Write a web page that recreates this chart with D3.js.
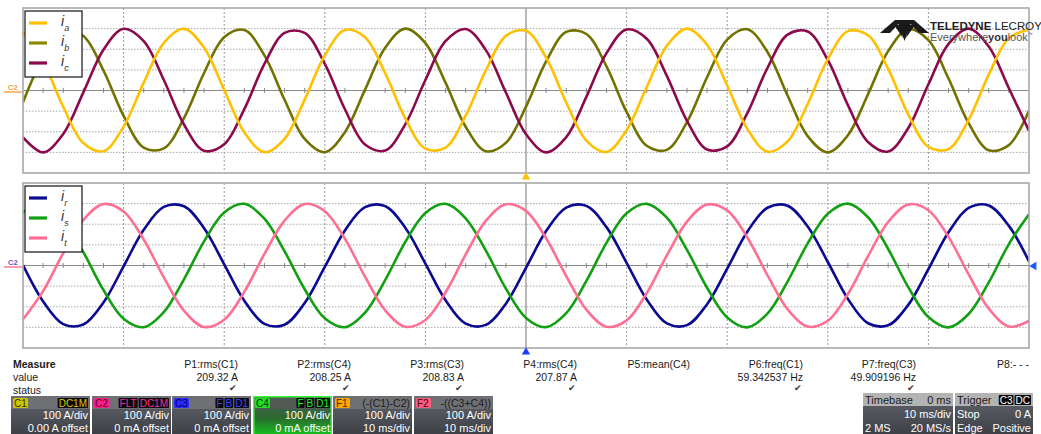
<!DOCTYPE html>
<html>
<head>
<meta charset="utf-8">
<script src="https://cdn.jsdelivr.net/npm/d3@7"></script>
<style>
  html, body { margin: 0; padding: 0; background: #ffffff; }
  svg { display: block; }
  text { font-family: "Liberation Sans", Arial, sans-serif; }
</style>
</head>
<body>
<svg id="scope" width="1041" height="434"></svg>
<script>
// ---- acquisition: sample times (ms, relative to trigger) ----
const sampleTimes = d3.range(-50, 51, 2);

// ---- grid 1 : machine-side phase currents (A) ----
const currentA = [283,140,-79,-255,-294,-175,38,231,299,207,3,-203,-299,-234,-44,170,293,258,84,-135,-282,-277,-122,97,265,290,159,-58,-243,-298,-192,17,217,300,222,24,-186,-297,-247,-65,152,288,268,105,-116,-273,-284,-142,77,254,295];
const currentB = [-57,159,290,264,97,-123,-277,-281,-134,85,258,293,170,-45,-235,-299,-202,4,207,300,230,38,-176,-294,-254,-78,141,284,274,117,-104,-268,-288,-153,64,247,297,187,-24,-221,-300,-217,-18,191,298,244,58,-158,-290,-265,-98];
const currentC = [-227,-300,-211,-9,198,299,239,51,-165,-292,-261,-90,129,279,279,129,-91,-262,-291,-164,51,239,298,197,-10,-212,-300,-226,-31,181,296,251,71,-147,-286,-271,-110,109,271,286,148,-71,-250,-296,-182,30,226,300,213,11,-196];

// ---- grid 2 : grid-side phase currents (A) ----
const currentR = [2,-174,-284,-286,-179,-4,173,284,287,181,6,-171,-283,-287,-182,-7,170,283,288,183,9,-168,-282,-288,-185,-11,167,281,289,186,13,-165,-281,-289,-188,-15,164,280,290,189,17,-162,-280,-290,-191,-18,161,279,291,192,20];
const currentS = [259,299,225,65,-119,-258,-299,-226,-67,117,257,299,227,69,-115,-256,-299,-228,-71,114,255,299,229,73,-112,-254,-299,-231,-75,110,253,299,232,76,-108,-252,-300,-233,-78,107,251,300,234,80,-105,-250,-300,-235,-82,104,249];
const currentT = [-261,-124,60,221,298,262,126,-58,-219,-298,-263,-128,56,218,298,263,129,-54,-217,-297,-264,-131,53,216,297,265,132,-51,-214,-297,-266,-134,49,213,296,267,136,-47,-212,-296,-268,-138,45,211,296,268,139,-43,-209,-296,-269];

// ---- axis divisions ----
const timeDivs = [-40, -30, -20, -10, 10, 20, 30, 40];     // 10 ms/div
const ampDivs  = [-300, -200, -100, 100, 200, 300];        // 100 A/div

// ---- measurement table ----
const paramNames  = ["P1:rms(C1)", "P2:rms(C4)", "P3:rms(C3)", "P4:rms(C4)", "P5:mean(C4)", "P6:freq(C1)", "P7:freq(C3)", "P8:- - -"];
const paramValues = ["209.32 A", "208.25 A", "208.83 A", "207.87 A", "", "59.342537 Hz", "49.909196 Hz", ""];
const paramValid  = [true, true, true, true, false, true, true, false];

const svg = d3.select("#scope");
const defs = svg.append("defs");

const x = d3.scaleLinear().domain([-50, 50]).range([23, 1029]);

const panels = [
  { id: "g1", top: 8, bottom: 173, markerLine: "#f2a33a", markerText: "#f0a040",
    series: [
      { key: "b", values: currentB, color: "#727200" },
      { key: "c", values: currentC, color: "#8c0a4c" },
      { key: "a", values: currentA, color: "#ffc000" }
    ],
    legend: [
      { sub: "a", color: "#ffc000" },
      { sub: "b", color: "#8a8a00" },
      { sub: "c", color: "#8c0a4c" }
    ] },
  { id: "g2", top: 183, bottom: 348, markerLine: "#ff6f91", markerText: "#7050c0",
    series: [
      { key: "r", values: currentR, color: "#0a0a92" },
      { key: "s", values: currentS, color: "#12a012" },
      { key: "t", values: currentT, color: "#ff6f93" }
    ],
    legend: [
      { sub: "r", color: "#0a0a92" },
      { sub: "s", color: "#12a012" },
      { sub: "t", color: "#ff6f93" }
    ] }
];

panels.forEach(p => {
  const y = d3.scaleLinear().domain([-400, 400]).range([p.bottom, p.top]);
  const g = svg.append("g");
  const [x0, x1] = x.range();

  defs.append("clipPath").attr("id", "clip-" + p.id)
    .append("rect").attr("x", x0).attr("y", p.top).attr("width", x1 - x0).attr("height", p.bottom - p.top);

  g.append("rect").attr("x", x0).attr("y", p.top).attr("width", x1 - x0).attr("height", p.bottom - p.top)
    .attr("fill", "#ffffff");

  // dotted amplitude gridlines
  g.selectAll(".hgrid").data(ampDivs).join("line")
    .attr("x1", x0).attr("x2", x1)
    .attr("y1", d => y(d)).attr("y2", d => y(d))
    .attr("stroke", "#a9a9a9").attr("stroke-width", 1).attr("stroke-dasharray", "1.5,1.5");

  // dashed time gridlines
  g.selectAll(".vgrid").data(timeDivs).join("line")
    .attr("x1", d => x(d)).attr("x2", d => x(d))
    .attr("y1", p.top).attr("y2", p.bottom)
    .attr("stroke", "#9a9a9a").attr("stroke-width", 1).attr("stroke-dasharray", "2,2");

  // centre cross
  g.append("line").attr("x1", x0).attr("x2", x1).attr("y1", y(0)).attr("y2", y(0))
    .attr("stroke", "#8a8a8a").attr("stroke-width", 1.2);
  g.append("line").attr("x1", x(0)).attr("x2", x(0)).attr("y1", p.top).attr("y2", p.bottom)
    .attr("stroke", "#8a8a8a").attr("stroke-width", 1.2);

  // minor ticks along the centre line
  const minor = d3.range(-48, 50, 2).filter(t => t % 10 !== 0);
  g.selectAll(".mtick").data(minor).join("line")
    .attr("x1", d => x(d)).attr("x2", d => x(d))
    .attr("y1", y(0) - 2.5).attr("y2", y(0) + 2.5)
    .attr("stroke", "#8a8a8a").attr("stroke-width", 1);

  // traces
  const line = d3.line()
    .x((d, i) => x(sampleTimes[i]))
    .y(d => y(d))
    .curve(d3.curveCatmullRom.alpha(0.5));

  const traces = g.append("g").attr("clip-path", "url(#clip-" + p.id + ")");
  p.series.forEach(s => {
    traces.append("path").attr("d", line(s.values))
      .attr("fill", "none").attr("stroke", s.color)
      .attr("stroke-width", 2.6).attr("stroke-linejoin", "round");
  });

  // frame
  g.append("rect").attr("x", x0).attr("y", p.top).attr("width", x1 - x0).attr("height", p.bottom - p.top)
    .attr("fill", "none").attr("stroke", "#a8a8a8").attr("stroke-width", 1.6);

  // channel ground marker at the left
  g.append("text").attr("x", 8).attr("y", y(0) - 1)
    .attr("font-size", 7.5).attr("font-weight", "bold").attr("fill", p.markerText).text("C2");
  g.append("line").attr("x1", 4).attr("x2", 22).attr("y1", y(0) + 1.5).attr("y2", y(0) + 1.5)
    .attr("stroke", p.markerLine).attr("stroke-width", 1.4);

  // legend
  const lg = g.append("g").attr("transform", `translate(25,${p.top + 3})`);
  lg.append("rect").attr("x", 0).attr("y", 0).attr("width", 57).attr("height", 66)
    .attr("fill", "#ffffff").attr("stroke", "#111111").attr("stroke-width", 1.2);
  p.legend.forEach((d, i) => {
    const ly = 12 + i * 20;
    lg.append("line").attr("x1", 4).attr("x2", 22).attr("y1", ly).attr("y2", ly)
      .attr("stroke", d.color).attr("stroke-width", 3.2);
    const t = lg.append("text").attr("x", 36).attr("y", ly + 3)
      .attr("font-family", "'Liberation Serif', 'DejaVu Serif', serif")
      .attr("font-style", "italic").attr("font-size", 14).attr("fill", "#333333");
    t.append("tspan").text("i");
    t.append("tspan").attr("dy", 5).attr("font-size", 9).text(d.sub);
  });
});

// trigger position / level markers
const tri = d3.symbol().type(d3.symbolTriangle).size(30);
svg.append("path").attr("d", tri()).attr("fill", "#ffc000")
  .attr("transform", `translate(${x(0)},177)`);
svg.append("path").attr("d", tri()).attr("fill", "#1a3cff")
  .attr("transform", `translate(${x(0)},352)`);
svg.append("path").attr("d", tri()).attr("fill", "#1a5cff")
  .attr("transform", `translate(1034,266) rotate(-90)`);

// ---- logo ----
const logo = svg.append("g").attr("transform", "translate(880,19)");
logo.append("path").attr("fill", "#1a1a1a").attr("d", "M0,14 L15,1 L22,1 L10,14 Z");
logo.append("path").attr("fill", "#1a1a1a").attr("d", "M49,14 L34,1 L27,1 L39,14 Z");
logo.append("path").attr("fill", "#1a1a1a").attr("d", "M17,1 L32,1 L24.5,22 Z");
logo.append("path").attr("fill", "#1a1a1a").attr("d", "M14,6 L20,6 L23,19 Z");
logo.append("path").attr("fill", "#1a1a1a").attr("d", "M35,6 L29,6 L26,19 Z");
const lt = svg.append("text").attr("x", 930).attr("y", 30).attr("font-size", 11.5).attr("fill", "#222");
lt.append("tspan").attr("font-weight", "bold").text("TELEDYNE");
lt.append("tspan").text(" LECROY");
const ls = svg.append("text").attr("x", 930).attr("y", 41).attr("font-size", 11).attr("fill", "#555");
ls.append("tspan").text("Everywhere");
ls.append("tspan").attr("font-weight", "bold").attr("fill", "#333").text("you");
ls.append("tspan").text("look");
ls.append("tspan").attr("font-size", 5).attr("dy", -5).text("™");

// ---- measurement table ----
const meas = svg.append("g").attr("font-size", 10.5).attr("fill", "#1a1a1a");
meas.append("text").attr("x", 13).attr("y", 368).attr("font-weight", "bold").text("Measure");
meas.append("text").attr("x", 13).attr("y", 381).text("value");
meas.append("text").attr("x", 13).attr("y", 394).text("status");
const colRight = i => 238 + i * 113;
paramNames.forEach((name, i) => {
  meas.append("text").attr("x", colRight(i)).attr("y", 368).attr("text-anchor", "end").text(name);
  if (paramValues[i]) meas.append("text").attr("x", colRight(i)).attr("y", 381).attr("text-anchor", "end").text(paramValues[i]);
  if (paramValid[i]) meas.append("text").attr("x", colRight(i) - 1).attr("y", 391).attr("text-anchor", "end")
    .attr("font-family", "'DejaVu Sans', sans-serif").attr("font-size", 8.5).attr("fill", "#3a3a3a").text("\u2714");
});

// ---- channel descriptor boxes ----
const channels = [
  { x: 11,  tag: "C1", tagBg: "#cfc600", tagFg: "#333300", flags: ["DC1M"], flagFg: "#d6cc00", scale: "100 A/div", offset: "0.00 A offset" },
  { x: 92,  tag: "C2", tagBg: "#ff1a8c", tagFg: "#4a0022", flags: ["FLT", "DC1M"], flagFg: "#ff2a92", scale: "100 A/div", offset: "0 mA offset" },
  { x: 172, tag: "C3", tagBg: "#2a2aff", tagFg: "#00005a", flags: ["F", "B", "D1"], flagFg: "#4040ff", scale: "100 A/div", offset: "0 mA offset" },
  { x: 253, tag: "C4", tagBg: "#22dd22", tagFg: "#003300", flags: ["F", "B", "D1"], flagFg: "#22ee22", scale: "100 A/div", offset: "0 mA offset", active: true },
  { x: 333, tag: "F1", tagBg: "#ffa500", tagFg: "#4a2a00", expr: "(-(C1)-C2)", scale: "100 A/div", offset: "10 ms/div" },
  { x: 414, tag: "F2", tagBg: "#ff5c80", tagFg: "#4a0010", expr: "-((C3+C4))", scale: "100 A/div", offset: "10 ms/div" }
];

const gBody = defs.append("linearGradient").attr("id", "boxBody").attr("x1", 0).attr("y1", 0).attr("x2", 0).attr("y2", 1);
gBody.append("stop").attr("offset", "0%").attr("stop-color", "#62656c");
gBody.append("stop").attr("offset", "100%").attr("stop-color", "#3c3e44");
const gAct = defs.append("linearGradient").attr("id", "boxActive").attr("x1", 0).attr("y1", 0).attr("x2", 0).attr("y2", 1);
gAct.append("stop").attr("offset", "0%").attr("stop-color", "#50585a");
gAct.append("stop").attr("offset", "55%").attr("stop-color", "#2c6a30");
gAct.append("stop").attr("offset", "100%").attr("stop-color", "#12c51c");

const boxW = 79, boxTop = 396;
channels.forEach(c => {
  const b = svg.append("g").attr("transform", `translate(${c.x},${boxTop})`);
  b.append("rect").attr("width", boxW).attr("height", 40)
    .attr("fill", c.active ? "url(#boxActive)" : "url(#boxBody)");
  b.append("rect").attr("width", boxW).attr("height", 13).attr("fill", c.active ? "#525a56" : "#6e7074");
  if (c.active) {
    b.append("rect").attr("x", 0.75).attr("y", 0.75).attr("width", boxW - 1.5).attr("height", 40)
      .attr("fill", "none").attr("stroke", "#33ff33").attr("stroke-width", 1.5);
  }
  b.append("rect").attr("x", 2).attr("y", 2).attr("width", 15).attr("height", 10).attr("rx", 1.5).attr("fill", c.tagBg);
  b.append("text").attr("x", 3).attr("y", 10.5).attr("font-size", 10).attr("fill", c.tagFg).text(c.tag);
  if (c.flags) {
    let cursor = boxW - 2;
    c.flags.slice().reverse().forEach(f => {
      const t = b.append("text").attr("x", cursor - 1).attr("y", 10.5).attr("text-anchor", "end")
        .attr("font-size", 10).attr("fill", c.flagFg).text(f);
      const w = t.node().getComputedTextLength();
      b.insert("rect", "text:last-of-type").attr("x", cursor - w - 2).attr("y", 2).attr("width", w + 2).attr("height", 10)
        .attr("rx", 1).attr("fill", "#0a0a0a");
      t.raise();
      cursor -= w + 3;
    });
  }
  if (c.expr) {
    b.append("text").attr("x", boxW - 2).attr("y", 10.5).attr("text-anchor", "end")
      .attr("font-size", 10.5).attr("fill", "#1e1e1e").text(c.expr);
  }
  b.append("text").attr("x", boxW - 2).attr("y", 23).attr("text-anchor", "end")
    .attr("font-size", 11).attr("fill", "#ffffff").text(c.scale);
  b.append("text").attr("x", boxW - 2).attr("y", 36).attr("text-anchor", "end")
    .attr("font-size", 11).attr("fill", "#ffffff").text(c.offset);
});

// timebase / trigger boxes
const panelsRight = [
  { x: 863, w: 90, head: "Timebase", headRight: "0 ms", rows: [["", "10 ms/div"], ["2 MS", "20 MS/s"]] },
  { x: 955, w: 78, head: "Trigger", badges: ["C3", "DC"], rows: [["Stop", "0 A"], ["Edge", "Positive"]] }
];
panelsRight.forEach(pr => {
  const b = svg.append("g").attr("transform", `translate(${pr.x},393)`);
  b.append("rect").attr("width", pr.w).attr("height", 44).attr("fill", "url(#boxBody)");
  b.append("rect").attr("width", pr.w).attr("height", 13).attr("fill", "#b3b3b3");
  b.append("text").attr("x", 2).attr("y", 10.5).attr("font-size", 11).attr("fill", "#1a1a1a").text(pr.head);
  if (pr.headRight) b.append("text").attr("x", pr.w - 2).attr("y", 10.5).attr("text-anchor", "end")
    .attr("font-size", 11).attr("fill", "#1a1a1a").text(pr.headRight);
  if (pr.badges) {
    let cursor = pr.w - 2;
    pr.badges.slice().reverse().forEach(f => {
      const t = b.append("text").attr("x", cursor - 1).attr("y", 10.5).attr("text-anchor", "end")
        .attr("font-size", 10).attr("fill", "#ffffff").text(f);
      const w = t.node().getComputedTextLength();
      b.insert("rect", "text:last-of-type").attr("x", cursor - w - 2).attr("y", 2).attr("width", w + 2).attr("height", 10)
        .attr("rx", 1).attr("fill", "#0a0a0a");
      t.raise();
      cursor -= w + 3;
    });
  }
  pr.rows.forEach((r, i) => {
    const ry = 25 + i * 13.5;
    if (r[0]) b.append("text").attr("x", 2).attr("y", ry).attr("font-size", 11).attr("fill", "#ffffff").text(r[0]);
    b.append("text").attr("x", pr.w - 2).attr("y", ry).attr("text-anchor", "end")
      .attr("font-size", 11).attr("fill", "#ffffff").text(r[1]);
  });
});
</script>
</body>
</html>
